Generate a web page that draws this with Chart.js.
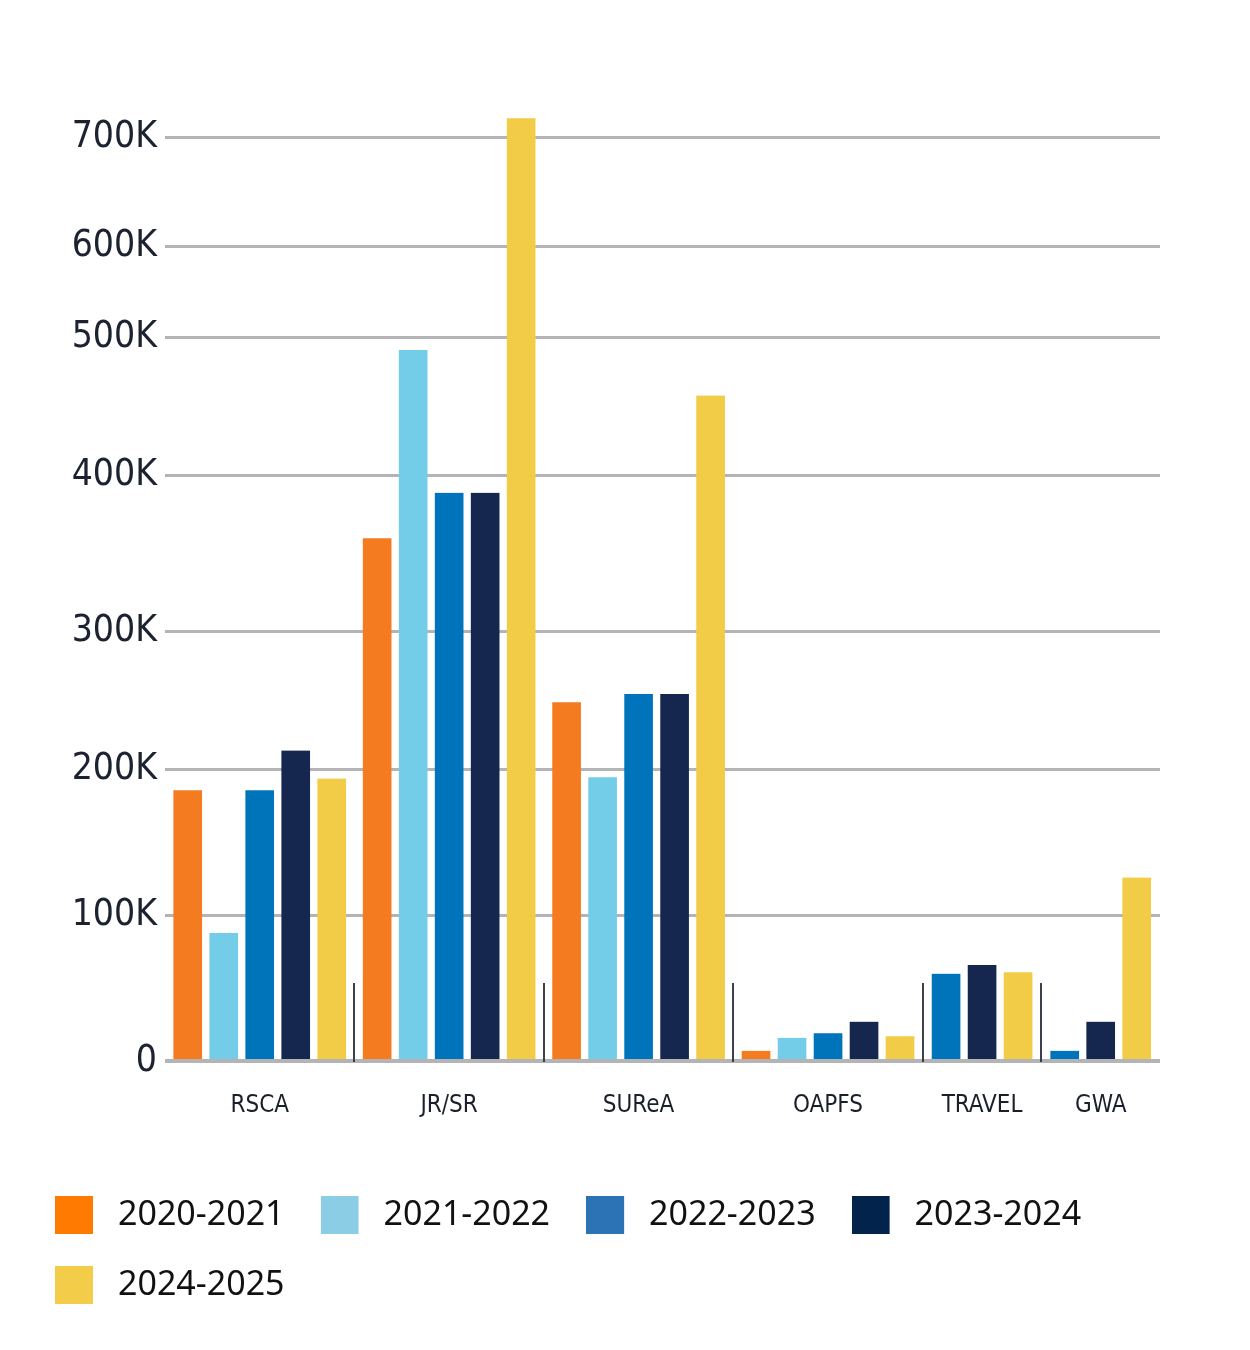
<!DOCTYPE html>
<html>
<head>
<meta charset="utf-8">
<script src="https://cdn.jsdelivr.net/npm/chart.js@4.4.1/dist/chart.umd.min.js"></script>
<style>
  html, body { margin: 0; padding: 0; background: #ffffff; }
  #wrap { width: 1250px; height: 1350px; position: relative; }
</style>
</head>
<body>
<div id="wrap"><canvas id="chart"></canvas></div>
<script>
// ---------------- DATA ----------------
const categories = ['RSCA', 'JR/SR', 'SUReA', 'OAPFS', 'TRAVEL', 'GWA'];
const seriesNames = ['2020-2021', '2021-2022', '2022-2023', '2023-2024', '2024-2025'];
const values2020_2021 = [186000, 360000, 249000, 7000, null, null];
const values2021_2022 = [88000, 491000, 195000, 16000, null, null];
const values2022_2023 = [186000, 389000, 255000, 19000, 60000, 7000];
const values2023_2024 = [214000, 389000, 255000, 27000, 66000, 27000];
const values2024_2025 = [194000, 717000, 458000, 17000, 61000, 126000];
const yTickValues = [0, 100000, 200000, 300000, 400000, 500000, 600000, 700000];
const yTickLabels = ['0', '100K', '200K', '300K', '400K', '500K', '600K', '700K'];
const yAxisMax = 750000;

// ---------------- STYLE ----------------
const barColors = ['#F47B20', '#74CDE8', '#0074BB', '#15274F', '#F2CC47'];
const legendColors = ['#FF7A00', '#8BCDE5', '#2C73B6', '#02234B', '#F3CD4A'];
// relative spacing of the (hand-drawn, uneven) grid bands of the value axis
const yBandSpans = [145.5, 145.5, 138, 156, 138, 91, 109.5, 55];
const GROUP_GAP = 0.35;        // extra slot fraction between category groups
const BAR_SLOT = 36;           // px per bar slot
const BAR_GAP = 4;             // transparent side border -> visual gap
const SEPARATOR_HEIGHT = 78;
const narrowFont = '"Liberation Sans Narrow", "DejaVu Sans Condensed", "Roboto Condensed", Roboto, sans-serif';
const legendFont = '"Noto Sans", "Open Sans", Lato, sans-serif';

const seriesValues = [values2020_2021, values2021_2022, values2022_2023, values2023_2024, values2024_2025];

// knots of the segmented value axis
const KNOT_VALUES = yTickValues.concat([yAxisMax]);
const KNOT_FRACS = (function () {
  const total = yBandSpans.reduce((a, b) => a + b, 0);
  let acc = 0; const fr = [0];
  yBandSpans.forEach(s => { acc += s; fr.push(acc / total); });
  return fr;
})();

class SegmentedScale extends Chart.LinearScale {
  static id = 'segmented';
  static defaults = {};
  toDecimal(v) {
    let i = 0;
    while (i < KNOT_VALUES.length - 2 && v > KNOT_VALUES[i + 1]) i++;
    const v0 = KNOT_VALUES[i], v1 = KNOT_VALUES[i + 1];
    return KNOT_FRACS[i] + (v - v0) / (v1 - v0) * (KNOT_FRACS[i + 1] - KNOT_FRACS[i]);
  }
  fromDecimal(d) {
    let i = 0;
    while (i < KNOT_FRACS.length - 2 && d > KNOT_FRACS[i + 1]) i++;
    const f0 = KNOT_FRACS[i], f1 = KNOT_FRACS[i + 1];
    return KNOT_VALUES[i] + (d - f0) / (f1 - f0) * (KNOT_VALUES[i + 1] - KNOT_VALUES[i]);
  }
  getPixelForValue(value) {
    if (value === null || value === undefined || isNaN(value)) return NaN;
    return this.getPixelForDecimal(this.toDecimal(value));
  }
  getValueForPixel(pixel) {
    return this.fromDecimal(this.getDecimalForPixel(pixel));
  }
}

class GroupedCategoryScale extends Chart.CategoryScale {
  static id = 'groupedCategory';
  static defaults = {};
  weights() {
    const ds = this.chart.data.datasets;
    const n = this.chart.data.labels.length;
    const w = [];
    for (let i = 0; i < n; i++) {
      let c = 0;
      ds.forEach((d, k) => { if (this.chart.isDatasetVisible(k) && d.data[i] !== null && d.data[i] !== undefined) c++; });
      w.push(Math.max(c, 1) + GROUP_GAP);
    }
    return w;
  }
  getPixelForValue(value) {
    if (typeof value !== 'number') value = this.parse(value);
    if (value === null || isNaN(value)) return NaN;
    const w = this.weights();
    const total = w.reduce((a, b) => a + b, 0);
    const idx = Math.round(value);
    let acc = 0;
    for (let k = 0; k < idx; k++) acc += w[k];
    acc += w[idx] / 2;
    return this.getPixelForDecimal(acc / total);
  }
  getBoundaryPixel(idx) {
    const w = this.weights();
    const total = w.reduce((a, b) => a + b, 0);
    let acc = 0;
    for (let k = 0; k < idx; k++) acc += w[k];
    return this.getPixelForDecimal(acc / total);
  }
  getValueForPixel(pixel) {
    const w = this.weights();
    const total = w.reduce((a, b) => a + b, 0);
    const d = this.getDecimalForPixel(pixel) * total;
    let acc = 0;
    for (let k = 0; k < w.length; k++) { acc += w[k]; if (d <= acc) return k; }
    return w.length - 1;
  }
}

Chart.register(SegmentedScale, GroupedCategoryScale);

function legendSwatch(i) {
  const c = document.createElement('canvas');
  c.width = 46; c.height = 38;
  const g = c.getContext('2d');
  g.fillStyle = legendColors[i];
  g.fillRect(0, 0, 38, 38);
  return c;
}

const separatorPlugin = {
  id: 'groupSeparators',
  afterDatasetsDraw(chart) {
    const xs = chart.scales.x;
    const { ctx, chartArea } = chart;
    ctx.save();
    ctx.strokeStyle = '#3b404b';
    ctx.lineWidth = 2;
    for (let i = 1; i < categories.length; i++) {
      const x = Math.round(xs.getBoundaryPixel(i));
      ctx.beginPath();
      ctx.moveTo(x, chartArea.bottom - SEPARATOR_HEIGHT);
      ctx.lineTo(x, chartArea.bottom + 1);
      ctx.stroke();
    }
    ctx.restore();
  }
};

new Chart(document.getElementById('chart'), {
  type: 'bar',
  data: {
    labels: categories,
    datasets: seriesNames.map((name, i) => ({
      label: name,
      data: seriesValues[i],
      backgroundColor: barColors[i],
      borderColor: 'rgba(0,0,0,0)',
      borderWidth: { left: BAR_GAP, right: BAR_GAP, top: 0, bottom: 0 },
      borderSkipped: false,
      barThickness: BAR_SLOT,
      skipNull: true
    }))
  },
  options: {
    responsive: true,
    maintainAspectRatio: false,
    animation: false,
    events: [],
    layout: { padding: { left: 19, right: 90, top: 82, bottom: 38 } },
    scales: {
      x: {
        type: 'groupedCategory',
        grid: { display: false },
        border: { display: false },
        ticks: {
          color: '#1a1f2b',
          padding: 22,
          autoSkip: false,
          maxRotation: 0,
          font: { family: narrowFont, size: 24 }
        },
        afterFit(scale) { scale.height = 101; }
      },
      y: {
        type: 'segmented',
        min: 0,
        max: yAxisMax,
        bounds: 'data',
        border: { display: false },
        grid: {
          color: '#b4b4b6',
          lineWidth: (ctx) => (ctx.tick && ctx.tick.value === 0) ? 4 : 3,
          drawTicks: false
        },
        ticks: {
          color: '#1c2230',
          padding: 8,
          font: { family: narrowFont, size: 37 },
          callback: (value) => yTickLabels[yTickValues.indexOf(value)]
        },
        afterBuildTicks(scale) { scale.ticks = yTickValues.map(v => ({ value: v })); },
        afterFit(scale) { scale.width = 146; }
      }
    },
    plugins: {
      tooltip: { enabled: false },
      legend: {
        position: 'bottom',
        align: 'start',
        labels: {
          usePointStyle: true,
          pointStyleWidth: 46,
          padding: 36,
          color: '#111111',
          font: { family: legendFont, size: 34 },
          generateLabels(chart) {
            const items = Chart.defaults.plugins.legend.labels.generateLabels(chart);
            return items.map(it => Object.assign(it, { pointStyle: legendSwatch(it.datasetIndex) }));
          }
        }
      }
    }
  },
  plugins: [separatorPlugin]
});
</script>
</body>
</html>
